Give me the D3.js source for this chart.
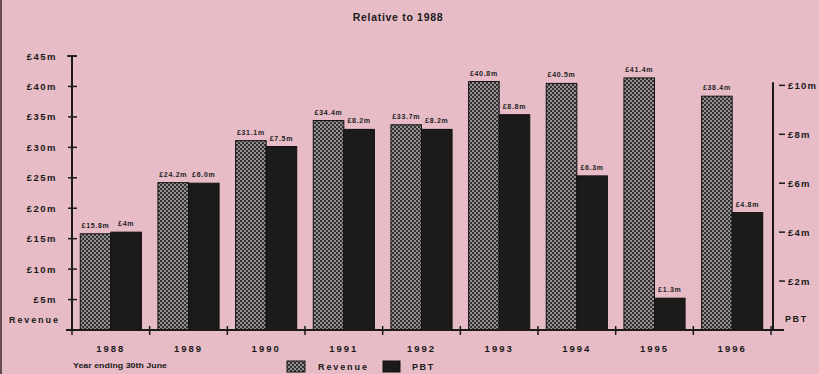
<!DOCTYPE html>
<html><head><meta charset="utf-8">
<script src="https://cdn.jsdelivr.net/npm/d3@7"></script>
<style>
html,body{margin:0;padding:0;background:#e7bcc6;}
svg{display:block;font-family:"Liberation Sans",Arial,Helvetica,sans-serif;}
</style></head>
<body>
<svg id="chart" width="819" height="374"></svg>
<script>
const years = ["1988","1989","1990","1991","1992","1993","1994","1995","1996"];
const revenue = [15.8, 24.2, 31.1, 34.4, 33.7, 40.8, 40.5, 41.4, 38.4];
const pbt = [4, 6.0, 7.5, 8.2, 8.2, 8.8, 6.3, 1.3, 4.8];
const revenueLabels = ["£15.8m","£24.2m","£31.1m","£34.4m","£33.7m","£40.8m","£40.5m","£41.4m","£38.4m"];
const pbtLabels = ["£4m","£6.0m","£7.5m","£8.2m","£8.2m","£8.8m","£6.3m","£1.3m","£4.8m"];
const leftTicks = [5,10,15,20,25,30,35,40,45];
const rightTicks = [2,4,6,8,10];
const title = "Relative to 1988";

const svg = d3.select("#chart");
const defs = svg.append("defs");
const pat = defs.append("pattern").attr("id","checker").attr("patternUnits","userSpaceOnUse")
  .attr("width",4).attr("height",4);
pat.append("rect").attr("width",4).attr("height",4).attr("fill","#949092");
pat.append("rect").attr("width",2).attr("height",2).attr("fill","#333132");
pat.append("rect").attr("x",2).attr("y",2).attr("width",2).attr("height",2).attr("fill","#333132");

svg.append("rect").attr("width",819).attr("height",374).attr("fill","#e7bcc6");
svg.append("rect").attr("x",0).attr("y",0).attr("width",2).attr("height",374).attr("fill","#6a4c55");

const x = d3.scaleBand().domain(years).range([72, 771]).padding(0);
const x1 = d3.scaleBand().domain(["rev","pbt"]).range([0, x.bandwidth()]).paddingInner(0).paddingOuter(0.27);
const yL = d3.scaleLinear().domain([0,45]).range([330,56]);
const yR = d3.scaleLinear().domain([0,11.2]).range([330,56]);

// title
svg.append("text").attr("x",398).attr("y",21).attr("text-anchor","middle")
  .attr("font-size",10.5).attr("font-weight","bold").attr("letter-spacing",0.7).attr("fill","#1a1a1a").text(title);

// bars
const g = svg.append("g");
years.forEach((yr,i)=>{
  const bx = x(yr);
  g.append("rect").attr("x",bx+x1("rev")).attr("y",yL(revenue[i]))
    .attr("width",x1.bandwidth()).attr("height",yL(0)-yL(revenue[i]))
    .attr("fill","url(#checker)").attr("stroke","#111").attr("stroke-width",1);
  g.append("rect").attr("x",bx+x1("pbt")).attr("y",yR(pbt[i]))
    .attr("width",x1.bandwidth()).attr("height",yR(0)-yR(pbt[i]))
    .attr("fill","#1c1b1a").attr("stroke","#111").attr("stroke-width",1);
  g.append("text").attr("x",bx+x1("rev")+x1.bandwidth()/2).attr("y",yL(revenue[i])-6)
    .attr("text-anchor","middle").attr("font-size",7).attr("font-weight","bold")
    .attr("letter-spacing",0.7).attr("fill","#222").text(revenueLabels[i]);
  g.append("text").attr("x",bx+x1("pbt")+x1.bandwidth()/2).attr("y",yR(pbt[i])-6)
    .attr("text-anchor","middle").attr("font-size",7).attr("font-weight","bold")
    .attr("letter-spacing",0.7).attr("fill","#222").text(pbtLabels[i]);
});

// left axis
const axL = svg.append("g");
axL.append("line").attr("x1",72).attr("x2",72).attr("y1",yL(45)).attr("y2",yL(0)).attr("stroke","#1a1a1a").attr("stroke-width",2);
axL.append("line").attr("x1",67).attr("x2",77).attr("y1",yL(45)).attr("y2",yL(45)).attr("stroke","#1a1a1a").attr("stroke-width",1.5);
leftTicks.forEach(t=>{
  axL.append("line").attr("x1",68).attr("x2",77).attr("y1",yL(t)).attr("y2",yL(t)).attr("stroke","#1a1a1a").attr("stroke-width",1.5);
  axL.append("text").attr("x",57).attr("y",yL(t)+3.5).attr("text-anchor","end")
    .attr("font-size",9.5).attr("font-weight","bold").attr("letter-spacing",1.5).attr("fill","#1a1a1a").text("£"+t+"m");
});
svg.append("text").attr("x",9).attr("y",323).attr("font-size",9).attr("font-weight","bold")
  .attr("letter-spacing",1.9).attr("fill","#1a1a1a").text("Revenue");

// right axis
const axR = svg.append("g");
axR.append("line").attr("x1",773).attr("x2",773).attr("y1",yR(10)-3).attr("y2",yR(0)).attr("stroke","#1a1a1a").attr("stroke-width",2);
rightTicks.forEach(t=>{
  axR.append("line").attr("x1",779).attr("x2",785).attr("y1",yR(t)).attr("y2",yR(t)).attr("stroke","#1a1a1a").attr("stroke-width",1.5);
  axR.append("text").attr("x",788).attr("y",yR(t)+3.5).attr("text-anchor","start")
    .attr("font-size",9.5).attr("font-weight","bold").attr("letter-spacing",1.2).attr("fill","#1a1a1a").text("£"+t+"m");
});
svg.append("text").attr("x",785).attr("y",322).attr("font-size",9).attr("font-weight","bold")
  .attr("letter-spacing",1.6).attr("fill","#1a1a1a").text("PBT");

// bottom axis
const axB = svg.append("g");
axB.append("line").attr("x1",66).attr("x2",784).attr("y1",330).attr("y2",330).attr("stroke","#1a1a1a").attr("stroke-width",2);
years.forEach(yr=>{
  axB.append("line").attr("x1",x(yr)).attr("x2",x(yr)).attr("y1",326).attr("y2",335).attr("stroke","#1a1a1a").attr("stroke-width",1.5);
  axB.append("text").attr("x",x(yr)+x.bandwidth()/2).attr("y",352).attr("text-anchor","middle")
    .attr("font-size",9.5).attr("font-weight","bold").attr("letter-spacing",2).attr("fill","#1a1a1a").text(yr);
});
axB.append("line").attr("x1",771).attr("x2",771).attr("y1",326).attr("y2",335).attr("stroke","#1a1a1a").attr("stroke-width",1.5);

svg.append("text").attr("x",73).attr("y",368).attr("font-size",7.5).attr("font-weight","bold")
  .attr("textLength",94).attr("lengthAdjust","spacingAndGlyphs").attr("fill","#1a1a1a").text("Year ending 30th June");

// legend
const leg = svg.append("g");
leg.append("rect").attr("x",287).attr("y",361).attr("width",18).attr("height",11).attr("fill","url(#checker)").attr("stroke","#111");
leg.append("text").attr("x",318).attr("y",370).attr("font-size",9).attr("font-weight","bold").attr("letter-spacing",1.9).attr("fill","#1a1a1a").text("Revenue");
leg.append("rect").attr("x",383).attr("y",361).attr("width",17).attr("height",11).attr("fill","#1c1b1a").attr("stroke","#111");
leg.append("text").attr("x",412).attr("y",370).attr("font-size",9).attr("font-weight","bold").attr("letter-spacing",1.6).attr("fill","#1a1a1a").text("PBT");
</script>
</body></html>
